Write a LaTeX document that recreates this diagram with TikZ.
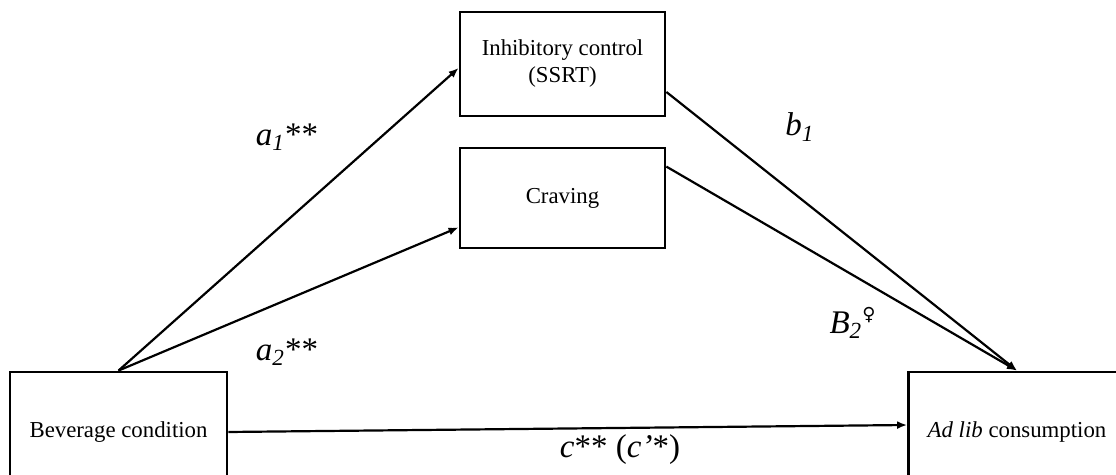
\documentclass[tikz,border=0pt]{standalone}
\usepackage{fontspec}
\setmainfont{Liberation Serif}
\newfontfamily\symfont{DejaVu Sans}
\usetikzlibrary{arrows.meta}
\tikzset{
  box/.style = {draw, line width=1.4pt, align=center,
    font=\fontsize{11.4}{13.5}\selectfont},
  link/.style = {->, line width=1.1pt},
  coef/.style = {font=\fontsize{16.5}{19}\selectfont}
}
\tikzset{>={Latex[length=5pt,width=4pt]}}
\newcommand{\fem}{{\symfont\fontsize{9}{9}\selectfont ♀}}

\begin{document}
\begin{tikzpicture}[x=0.5pt,y=-0.5pt]
  \useasboundingbox (0,0) rectangle (1116,475);
  \clip (0,0) rectangle (1116,475);
  % boxes
  \node[box, minimum width=102.5pt, minimum height=52pt] (inh) at (562.5,64) {Inhibitory control\\(SSRT)};
  \node[box, minimum width=102.5pt, minimum height=50pt] (crav) at (562.5,198) {Craving};
  \node[box, minimum width=108.5pt, minimum height=60pt] (bev) at (118.5,432) {Beverage condition};
  \node[box, minimum width=108.5pt, minimum height=60pt] (adlib) at (1017,432) {\textit{Ad lib} consumption};
  % paths
  \draw[link] (bev.north) -- ([yshift=-2pt]inh.west);
  \draw[link] (bev.north) -- ([yshift=11pt]crav.south west);
  \draw[link] ([yshift=-14pt]inh.east) -- (adlib.north);
  \draw[link] ([yshift=-10pt]crav.north east) -- (adlib.north);
  \draw[link] (bev.east) -- ([yshift=3.5pt]adlib.west);
  % coefficients
  \node[coef] (a1) at (287,137) {\textit{a}\textsubscript{\textit{1}}**};
  \node[coef] (b1) at (800,127) {\textit{b}\textsubscript{\textit{1}}};
  \node[coef] (a2) at (287,352) {\textit{a}\textsubscript{\textit{2}}**};
  \node[coef] (b2) at (853,323) {\textit{B}\textsubscript{\textit{2}}\textsuperscript{\fem}};
  \node[coef] (c) at (620,450) {\textit{c}** (\textit{c’}*)};
\end{tikzpicture}
\end{document}
